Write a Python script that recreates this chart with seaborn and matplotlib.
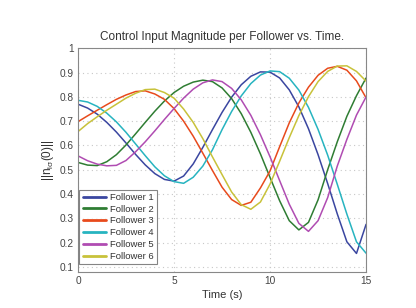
import pandas as pd
import numpy as np
import matplotlib
matplotlib.use("Agg")
import matplotlib.pyplot as plt
import seaborn as sns

# time samples (s)
time = [0, 0.5, 1, 1.5, 2, 2.5, 3, 3.5, 4, 4.5, 5, 5.5, 6, 6.5, 7, 7.5,
        8, 8.5, 9, 9.5, 10, 10.5, 11, 11.5, 12, 12.5, 13, 13.5, 14, 14.5, 15]

follower1 = [0.770, 0.754, 0.729, 0.695, 0.655, 0.610, 0.563, 0.520, 0.484, 0.460, 0.453,
             0.474, 0.524, 0.592, 0.665, 0.736, 0.799, 0.850, 0.885, 0.903, 0.902,
             0.878, 0.829, 0.759, 0.669, 0.562, 0.443, 0.318, 0.203, 0.155, 0.275]
follower2 = [0.530, 0.519, 0.517, 0.533, 0.562, 0.602, 0.648, 0.695, 0.741, 0.783, 0.818,
             0.844, 0.861, 0.869, 0.863, 0.837, 0.793, 0.731, 0.654, 0.565, 0.468,
             0.372, 0.290, 0.252, 0.283, 0.376, 0.500, 0.615, 0.720, 0.805, 0.878]
follower3 = [0.698, 0.722, 0.745, 0.768, 0.790, 0.808, 0.822, 0.825, 0.812, 0.790, 0.752,
             0.700, 0.638, 0.568, 0.497, 0.428, 0.377, 0.353, 0.366, 0.425, 0.495,
             0.595, 0.693, 0.775, 0.840, 0.889, 0.918, 0.926, 0.910, 0.866, 0.796]
follower4 = [0.786, 0.779, 0.761, 0.733, 0.697, 0.654, 0.606, 0.558, 0.512, 0.475, 0.451,
             0.444, 0.469, 0.515, 0.582, 0.665, 0.740, 0.804, 0.855, 0.890, 0.907,
             0.904, 0.877, 0.828, 0.757, 0.666, 0.560, 0.440, 0.317, 0.203, 0.156]
follower5 = [0.557, 0.537, 0.523, 0.516, 0.518, 0.538, 0.574, 0.615, 0.660, 0.707, 0.752,
             0.795, 0.832, 0.858, 0.870, 0.863, 0.835, 0.788, 0.724, 0.644, 0.553,
             0.455, 0.358, 0.279, 0.246, 0.290, 0.385, 0.515, 0.625, 0.725, 0.800]
follower6 = [0.657, 0.690, 0.718, 0.745, 0.770, 0.795, 0.815, 0.830, 0.832, 0.818, 0.795,
             0.750, 0.695, 0.628, 0.553, 0.480, 0.408, 0.356, 0.337, 0.367, 0.441,
             0.535, 0.632, 0.723, 0.801, 0.863, 0.905, 0.927, 0.928, 0.905, 0.865]

names = ["Follower 1", "Follower 2", "Follower 3", "Follower 4", "Follower 5", "Follower 6"]
colors = ["#3a46a0", "#2f7d33", "#e84a1c", "#27b4c0", "#b04cb2", "#c8c23a"]

series = [follower1, follower2, follower3, follower4, follower5, follower6]
df = pd.concat([pd.DataFrame({"t": time, "v": s, "name": n}) for s, n in zip(series, names)])

sns.set_style("white")
plt.rcParams["font.family"] = ["Liberation Sans", "DejaVu Sans"]
plt.rcParams["mathtext.fontset"] = "custom"
plt.rcParams["mathtext.rm"] = "Liberation Sans"
plt.rcParams["mathtext.it"] = "Liberation Sans"

fig = plt.figure(figsize=(4.16, 3.08), dpi=100)
ax = fig.add_axes([0.1875, 0.118, 0.6925, 0.725])

sns.lineplot(data=df, x="t", y="v", hue="name", palette=colors, linewidth=1.1, ax=ax)

ax.set_xlim(0, 15)
ax.set_ylim(0.08, 1)
ax.set_xticks([0, 5, 10, 15])
ax.set_yticks([0.1, 0.2, 0.3, 0.4, 0.5, 0.6, 0.7, 0.8, 0.9, 1])
ax.set_yticklabels(["0.1", "0.2", "0.3", "0.4", "0.5", "0.6", "0.7", "0.8", "0.9", "1"])
ax.grid(True, linestyle=(0, (1, 3)), color="#c8c8c8", linewidth=0.8)
ax.tick_params(direction="in", length=3, labelsize=7.3, colors="#444444", width=0.6, pad=3)
for sp in ax.spines.values():
    sp.set_color("#888888")
    sp.set_linewidth(0.8)

ax.set_title("Control Input Magnitude per Follower vs. Time.", fontsize=8.5, color="#333333", pad=6)
ax.set_xlabel("Time (s)", fontsize=8, color="#333333", labelpad=3)
ax.set_ylabel(r"$||\mathrm{n}_{\mathrm{l}\sigma}\mathrm{(0)}||$", fontsize=8.5, color="#333333", labelpad=3)

leg = ax.legend(loc="lower left", bbox_to_anchor=(0.005, 0.033), borderaxespad=0,
                fontsize=6.8, frameon=True, fancybox=False, handlelength=2.5,
                labelspacing=0.3, handletextpad=0.4, borderpad=0.35)
leg.get_frame().set_edgecolor("#666666")
leg.get_frame().set_linewidth(0.8)
for line in leg.get_lines():
    line.set_linewidth(2.0)
for txt in leg.get_texts():
    txt.set_color("#333333")

fig.savefig("out.png", dpi=100)
